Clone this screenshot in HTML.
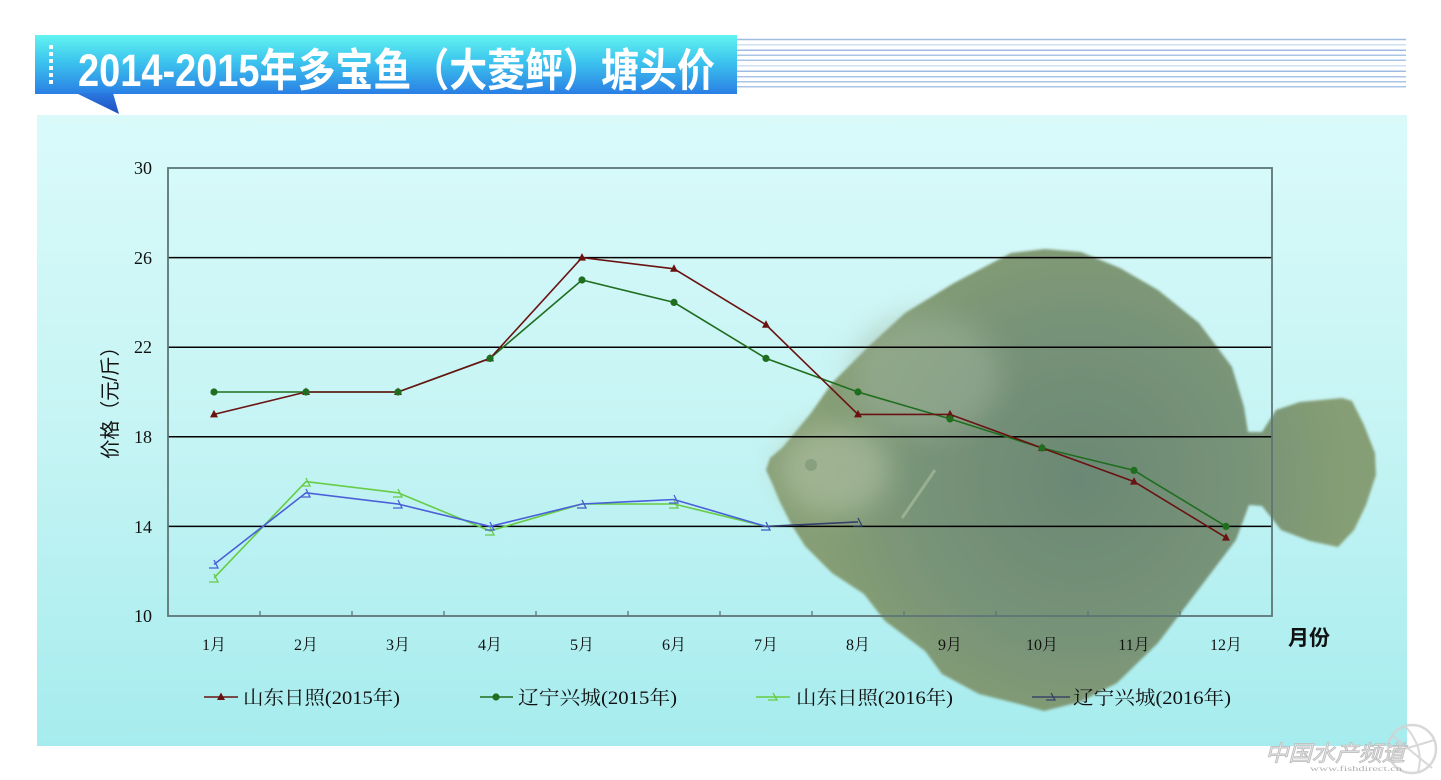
<!DOCTYPE html>
<html>
<head>
<meta charset="utf-8">
<style>
html,body{margin:0;padding:0;background:#fff;}
svg{display:block;}
</style>
</head>
<body>
<svg width="1441" height="780" viewBox="0 0 1441 780" xmlns="http://www.w3.org/2000/svg">
<defs>
  <linearGradient id="panel" x1="0" y1="115" x2="0" y2="746" gradientUnits="userSpaceOnUse">
    <stop offset="0" stop-color="#dafafa"/>
    <stop offset="0.5" stop-color="#c6f4f4"/>
    <stop offset="1" stop-color="#a6ecee"/>
  </linearGradient>
  <linearGradient id="title" x1="0" y1="35" x2="0" y2="94" gradientUnits="userSpaceOnUse">
    <stop offset="0" stop-color="#62f4f0"/>
    <stop offset="0.45" stop-color="#3cc4ee"/>
    <stop offset="1" stop-color="#2a7fe4"/>
  </linearGradient>
  <linearGradient id="tail" x1="0" y1="93" x2="0" y2="114" gradientUnits="userSpaceOnUse">
    <stop offset="0" stop-color="#2a78e0"/>
    <stop offset="1" stop-color="#2050c0"/>
  </linearGradient>
  <radialGradient id="fish" cx="1080" cy="480" r="270" gradientUnits="userSpaceOnUse">
    <stop offset="0" stop-color="#6b8874"/>
    <stop offset="0.6" stop-color="#779378"/>
    <stop offset="1" stop-color="#869e74"/>
  </radialGradient>
  <filter id="blur" x="-50%" y="-50%" width="200%" height="200%">
    <feGaussianBlur stdDeviation="14"/>
  </filter>
  <filter id="blur2" x="-20%" y="-20%" width="140%" height="140%">
    <feGaussianBlur stdDeviation="1.2"/>
  </filter>
</defs>

<rect x="0" y="0" width="1441" height="780" fill="#ffffff"/>
<rect x="37" y="115" width="1370" height="631" fill="url(#panel)"/>

<!-- stripes right of title -->
<g stroke-width="1.5">
  <line x1="737" y1="39.5" x2="1406" y2="39.5" stroke="#9fbde2"/>
  <line x1="737" y1="44.7" x2="1406" y2="44.7" stroke="#cfe2f4"/>
  <line x1="737" y1="50.3" x2="1406" y2="50.3" stroke="#9fbde2"/>
  <line x1="737" y1="55.3" x2="1406" y2="55.3" stroke="#a8c4e6"/>
  <line x1="737" y1="60.3" x2="1406" y2="60.3" stroke="#a8c4e6"/>
  <line x1="737" y1="65.7" x2="1406" y2="65.7" stroke="#cfe2f4"/>
  <line x1="737" y1="71.3" x2="1406" y2="71.3" stroke="#9fbde2"/>
  <line x1="737" y1="76.7" x2="1406" y2="76.7" stroke="#a8c4e6"/>
  <line x1="737" y1="81.7" x2="1406" y2="81.7" stroke="#a8c4e6"/>
  <line x1="737" y1="86.7" x2="1406" y2="86.7" stroke="#a8c4e6"/>
</g>

<!-- title box -->
<rect x="35" y="35" width="702" height="59" fill="url(#title)"/>
<polygon points="76,93 113,93 119,114" fill="url(#tail)"/>
<g fill="#ffffff">
  <rect x="49" y="45" width="4" height="4"/>
  <rect x="49" y="52" width="4" height="4"/>
  <rect x="49" y="59" width="4" height="4"/>
  <rect x="49" y="66" width="4" height="4"/>
  <rect x="49" y="73" width="4" height="4"/>
  <rect x="49" y="80" width="4" height="4"/>
</g>
<text x="78" y="86" font-family="'Liberation Sans','Noto Sans CJK SC',sans-serif" font-weight="bold" font-size="45" fill="#ffffff" textLength="637" lengthAdjust="spacingAndGlyphs">2014-2015年多宝鱼（大菱鲆）塘头价</text>

<!-- fish -->
<g filter="url(#blur2)">
  <path fill="url(#fish)" d="M1011,253 L1045,249 L1081,252 L1120,268 L1158,290 L1199,323 L1232,367 L1244,407 L1248,432 L1262,432 L1276,410 L1300,402 L1342,398 L1352,401 L1364,425 L1375,453 L1376,475 L1366,505 L1354,530 L1338,547 L1310,541 L1281,530 L1262,506 L1249,505 L1236,540 L1211,573 L1183,610 L1158,643 L1117,683 L1080,702 L1044,711 L1019,704 L979,694 L942,674 L925,651 L885,621 L864,594 L832,573 L805,546 L791,524 L780,502 L772,483 L766,470 L770,458 L783,447 L811,413 L832,383 L868,347 L905,313 L954,283 Z"/>
</g>
<ellipse cx="925" cy="375" rx="75" ry="60" fill="#a0b49c" opacity="0.5" filter="url(#blur)"/>
<ellipse cx="835" cy="470" rx="55" ry="45" fill="#aebfa2" opacity="0.65" filter="url(#blur)"/>
<circle cx="811" cy="465" r="6" fill="#7f9878" opacity="0.7"/>
<path d="M902,518 L935,470" stroke="#b5c6a8" stroke-width="3" opacity="0.55"/>

<!-- grid -->
<g stroke="#000000" stroke-width="1.5">
  <line x1="168" y1="257.6" x2="1272" y2="257.6"/>
  <line x1="168" y1="347.2" x2="1272" y2="347.2"/>
  <line x1="168" y1="436.8" x2="1272" y2="436.8"/>
  <line x1="168" y1="526.4" x2="1272" y2="526.4"/>
</g>
<rect x="168" y="168" width="1104" height="448" fill="none" stroke="#5d7676" stroke-width="1.8"/>
<g stroke="#5d7676" stroke-width="1.3">
  <line x1="260" y1="616" x2="260" y2="611"/>
  <line x1="352" y1="616" x2="352" y2="611"/>
  <line x1="444" y1="616" x2="444" y2="611"/>
  <line x1="536" y1="616" x2="536" y2="611"/>
  <line x1="628" y1="616" x2="628" y2="611"/>
  <line x1="720" y1="616" x2="720" y2="611"/>
  <line x1="812" y1="616" x2="812" y2="611"/>
  <line x1="904" y1="616" x2="904" y2="611"/>
  <line x1="996" y1="616" x2="996" y2="611"/>
  <line x1="1088" y1="616" x2="1088" y2="611"/>
  <line x1="1180" y1="616" x2="1180" y2="611"/>
</g>

<!-- y tick labels -->
<g font-family="'Liberation Serif',serif" font-size="18" fill="#111" text-anchor="end">
  <text x="152" y="174">30</text>
  <text x="152" y="264">26</text>
  <text x="152" y="353">22</text>
  <text x="152" y="443">18</text>
  <text x="152" y="533">14</text>
  <text x="152" y="622">10</text>
</g>
<text transform="translate(117,398) rotate(-90)" text-anchor="middle" font-family="'Liberation Sans','Noto Sans CJK SC',sans-serif" font-size="20" fill="#111" textLength="122" lengthAdjust="spacingAndGlyphs">价格（元/斤）</text>

<!-- x labels -->
<g font-family="'Liberation Serif','Noto Serif CJK SC',serif" font-size="16" fill="#111" text-anchor="middle">
  <text x="214" y="650">1月</text>
  <text x="306" y="650">2月</text>
  <text x="398" y="650">3月</text>
  <text x="490" y="650">4月</text>
  <text x="582" y="650">5月</text>
  <text x="674" y="650">6月</text>
  <text x="766" y="650">7月</text>
  <text x="858" y="650">8月</text>
  <text x="950" y="650">9月</text>
  <text x="1042" y="650">10月</text>
  <text x="1134" y="650">11月</text>
  <text x="1226" y="650">12月</text>
</g>
<text x="1288" y="645" font-family="'Liberation Sans','Noto Sans CJK SC',sans-serif" font-size="21" font-weight="bold" fill="#111" textLength="42" lengthAdjust="spacingAndGlyphs">月份</text>

<!-- series 3: 山东日照 2016 light green -->
<polyline fill="none" stroke="#66cc44" stroke-width="1.6" points="214,577.9 306,481.6 398,492.8 490,530.9 582,504 674,504 766,526.4"/>
<g fill="none" stroke="#66cc44" stroke-width="1.3">
  <path d="M209,582 H218 L214,574"/>
  <path d="M301,486 H310 L306,478"/>
  <path d="M393,497 H402 L398,489"/>
  <path d="M485,535 H494 L490,527"/>
  <path d="M577,508 H586 L582,500"/>
  <path d="M669,508 H678 L674,500"/>
  <path d="M761,530 H770 L766,522"/>
</g>

<!-- series 4: 辽宁兴城 2016 blue -->
<polyline fill="none" stroke="#4a5fd8" stroke-width="1.6" points="214,564.5 306,492.8 398,504 490,526.4 582,504 674,499.5 766,526.4"/>
<polyline fill="none" stroke="#34406a" stroke-width="1.6" points="766,526.4 858,521.9"/>
<g fill="none" stroke="#4a5fd8" stroke-width="1.3">
  <path d="M209,568 H218 L214,560"/>
  <path d="M301,497 H310 L306,489"/>
  <path d="M393,508 H402 L398,500"/>
  <path d="M485,530 H494 L490,522"/>
  <path d="M577,508 H586 L582,500"/>
  <path d="M669,503 H678 L674,495"/>
  <path d="M761,530 H770 L766,522"/>
</g>
<path d="M853,526 H862 L858,518" fill="none" stroke="#34406a" stroke-width="1.3"/>

<!-- series 2: 辽宁兴城 2015 green -->
<polyline fill="none" stroke="#1f6e1f" stroke-width="1.6" points="214,392 306,392 398,392 490,358.4 582,280 674,302.4 766,358.4 858,392 950,418.9 1042,448 1134,470.4 1226,526.4"/>

<!-- series 1: 山东日照 2015 dark red -->
<polyline fill="none" stroke="#6a1212" stroke-width="1.6" points="214,414.4 306,392 398,392 490,358.4 582,257.6 674,268.8 766,324.8 858,414.4 950,414.4 1042,448 1134,481.6 1226,537.6"/>
<g fill="#6a1212">
  <path d="M214,409.9 L218,417.4 L210,417.4 Z"/>
  <path d="M306,387.5 L310,395 L302,395 Z"/>
  <path d="M398,387.5 L402,395 L394,395 Z"/>
  <path d="M490,353.9 L494,361.4 L486,361.4 Z"/>
  <path d="M582,253.1 L586,260.6 L578,260.6 Z"/>
  <path d="M674,264.3 L678,271.8 L670,271.8 Z"/>
  <path d="M766,320.3 L770,327.8 L762,327.8 Z"/>
  <path d="M858,409.9 L862,417.4 L854,417.4 Z"/>
  <path d="M950,409.9 L954,417.4 L946,417.4 Z"/>
  <path d="M1042,443.5 L1046,451 L1038,451 Z"/>
  <path d="M1134,477.1 L1138,484.6 L1130,484.6 Z"/>
  <path d="M1226,533.1 L1230,540.6 L1222,540.6 Z"/>
</g>
<g fill="#1f6e1f">
  <circle cx="214" cy="392" r="3.6"/>
  <circle cx="306" cy="392" r="3.6"/>
  <circle cx="398" cy="392" r="3.6"/>
  <circle cx="490" cy="358.4" r="3.6"/>
  <circle cx="582" cy="280" r="3.6"/>
  <circle cx="674" cy="302.4" r="3.6"/>
  <circle cx="766" cy="358.4" r="3.6"/>
  <circle cx="858" cy="392" r="3.6"/>
  <circle cx="950" cy="418.9" r="3.6"/>
  <circle cx="1042" cy="448" r="3.6"/>
  <circle cx="1134" cy="470.4" r="3.6"/>
  <circle cx="1226" cy="526.4" r="3.6"/>
</g>

<!-- legend -->
<g font-family="'Liberation Serif','Noto Serif CJK SC',serif" font-size="19" fill="#111">
  <line x1="204" y1="697" x2="238" y2="697" stroke="#6a1212" stroke-width="1.6"/>
  <path d="M221,692.5 L225,700 L217,700 Z" fill="#6a1212"/>
  <text x="243" y="704" textLength="157" lengthAdjust="spacingAndGlyphs">山东日照(2015年)</text>

  <line x1="480" y1="697" x2="513" y2="697" stroke="#1f6e1f" stroke-width="1.6"/>
  <circle cx="496" cy="697" r="3.6" fill="#1f6e1f"/>
  <text x="518" y="704" textLength="159" lengthAdjust="spacingAndGlyphs">辽宁兴城(2015年)</text>

  <line x1="756" y1="697" x2="790" y2="697" stroke="#66cc44" stroke-width="1.6"/>
  <path d="M768,700 H777 L773,693" fill="none" stroke="#66cc44" stroke-width="1.3"/>
  <text x="796" y="704" textLength="157" lengthAdjust="spacingAndGlyphs">山东日照(2016年)</text>

  <line x1="1032" y1="697" x2="1070" y2="697" stroke="#3a4466" stroke-width="1.6"/>
  <path d="M1046,700 H1055 L1051,693" fill="none" stroke="#3a4466" stroke-width="1.3"/>
  <text x="1073" y="704" textLength="158" lengthAdjust="spacingAndGlyphs">辽宁兴城(2016年)</text>
</g>

<!-- watermark -->
<g opacity="0.85">
  <circle cx="1412" cy="749" r="24" fill="none" stroke="#d2d2d2" stroke-width="2.5"/>
  <path d="M1392,735 Q1412,752 1432,768" fill="none" stroke="#d2d2d2" stroke-width="2"/>
  <path d="M1405,726 Q1425,748 1418,772" fill="none" stroke="#d2d2d2" stroke-width="2"/>
  <path d="M1390,752 Q1410,748 1434,740" fill="none" stroke="#d2d2d2" stroke-width="2"/>
</g>
<text x="1265" y="761" font-family="'Liberation Sans','Noto Sans CJK SC',sans-serif" font-size="22" font-style="italic" fill="#e6e6e6" stroke="#bdbdbd" stroke-width="0.8" textLength="140" lengthAdjust="spacingAndGlyphs">中国水产频道</text>
<text x="1310" y="771" font-family="'Liberation Serif',serif" font-size="7" fill="#b0b0b0" textLength="92" lengthAdjust="spacingAndGlyphs">www.fishdirect.cn</text>
</svg>
</body>
</html>
